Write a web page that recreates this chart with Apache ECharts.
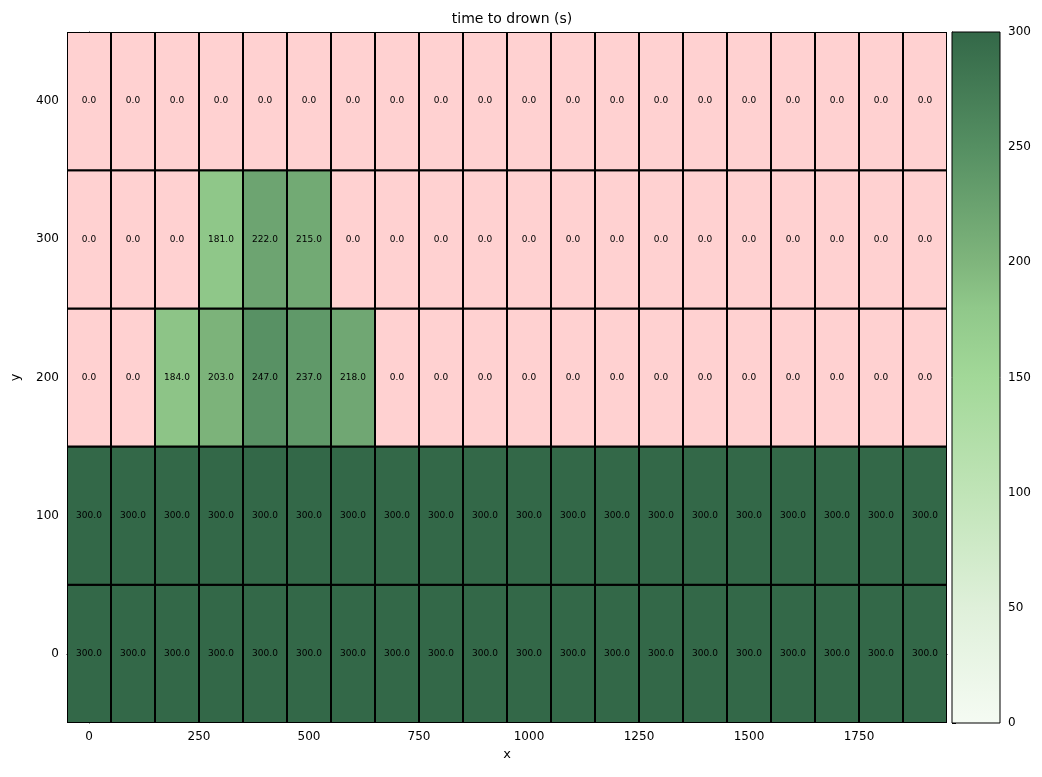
<!DOCTYPE html>
<html><head><meta charset="utf-8">
<script src="https://cdn.jsdelivr.net/npm/echarts@6/dist/echarts.min.js"></script>
<style>html,body{margin:0;padding:0;background:#fff}#c{width:1042px;height:777px}</style>
</head><body><div id="c"></div>
<script>
const xs = [0,100,200,300,400,500,600,700,800,900,1000,1100,1200,1300,1400,1500,1600,1700,1800,1900];
const ys = [0,100,200,300,400];
const row0   = [300,300,300,300,300,300,300,300,300,300,300,300,300,300,300,300,300,300,300,300];
const row100 = [300,300,300,300,300,300,300,300,300,300,300,300,300,300,300,300,300,300,300,300];
const row200 = [0,0,184,203,247,237,218,0,0,0,0,0,0,0,0,0,0,0,0,0];
const row300 = [0,0,0,181,222,215,0,0,0,0,0,0,0,0,0,0,0,0,0,0];
const row400 = [0,0,0,0,0,0,0,0,0,0,0,0,0,0,0,0,0,0,0,0];
const xTicks = [0,250,500,750,1000,1250,1500,1750];
const yTicks = [0,100,200,300,400];
const rows = [row0,row100,row200,row300,row400];
const data = [];
rows.forEach((r,j)=>r.forEach((v,i)=>data.push([xs[i],ys[j],v])));

const stops = [[0,[245,251,243]],[50,[223,240,218]],[100,[192,228,183]],[150,[162,216,152]],[180,[144,200,138]],[200,[127,181,124]],[250,[85,143,98]],[300,[51,104,72]]];
function green(v){
  v=Math.max(0,Math.min(300,v));
  for(let i=0;i<stops.length-1;i++){
    const a=stops[i],b=stops[i+1];
    if(v<=b[0]){const f=(v-a[0])/(b[0]-a[0]);return 'rgb('+a[1].map((c,k)=>Math.round(c+(b[1][k]-c)*f)).join(',')+')';}
  }
}
const PINK = '#ffd1d1';
const chart = echarts.init(document.getElementById('c'));
chart.setOption({
  animation:false,
  title:{text:'time to drown (s)',left:507,top:7,textAlign:'center',textStyle:{fontSize:14,fontWeight:'normal',color:'#000',fontFamily:'DejaVu Sans'}},
  grid:[{left:67,top:32,width:880,height:691},{left:952,top:32,width:48,height:691}],
  xAxis:[{type:'value',gridIndex:0,min:-50,max:1950,name:'x',nameLocation:'middle',nameGap:24,
    nameTextStyle:{fontSize:13,color:'#000',fontFamily:'DejaVu Sans'},
    splitLine:{show:false},axisLine:{lineStyle:{color:'#000'}},
    axisTick:{customValues:xTicks,length:4,lineStyle:{color:'#000'}},
    axisLabel:{customValues:xTicks,formatter:v=>String(v),color:'#000',fontSize:12,fontFamily:'DejaVu Sans'}},
    {type:'value',gridIndex:1,min:0,max:1,show:false}],
  yAxis:[{type:'value',gridIndex:0,min:-50,max:450,name:'y',nameLocation:'middle',nameGap:45,
    nameTextStyle:{fontSize:13,color:'#000',fontFamily:'DejaVu Sans'},
    splitLine:{show:false},axisLine:{show:true,lineStyle:{color:'#000'}},
    axisTick:{show:true,customValues:yTicks,length:4,lineStyle:{color:'#000'}},
    axisLabel:{customValues:yTicks,color:'#000',fontSize:12,fontFamily:'DejaVu Sans'}},
    {type:'value',gridIndex:1,min:0,max:300,interval:50,position:'right',
    splitLine:{show:false},axisLine:{show:true,lineStyle:{color:'#000'}},
    axisTick:{show:true,length:4,lineStyle:{color:'#000'}},
    axisLabel:{color:'#000',fontSize:12,fontFamily:'DejaVu Sans'}}],
  series:[{
    type:'custom',xAxisIndex:0,yAxisIndex:0,data:data,clip:true,
    renderItem:function(params,api){
      const x=api.value(0),y=api.value(1),v=api.value(2);
      const p1=api.coord([x-50,y+50]),p2=api.coord([x+50,y-50]);
      return {type:'group',children:[
        {type:'rect',shape:{x:p1[0],y:p1[1],width:p2[0]-p1[0],height:p2[1]-p1[1]},
         style:{fill:v===0?PINK:green(v),stroke:'#000',lineWidth:2}},
        {type:'text',style:{text:v.toFixed(1),x:(p1[0]+p2[0])/2,y:(p1[1]+p2[1])/2,
          align:'center',verticalAlign:'middle',fontSize:9,fill:'#000',fontFamily:'DejaVu Sans'}}]};
    }
  },{
    type:'custom',xAxisIndex:1,yAxisIndex:1,data:[[0,0]],
    renderItem:function(params,api){
      const p1=api.coord([0,300]),p2=api.coord([1,0]);
      const cs=stops.map(s=>({offset:1-s[0]/300,color:'rgb('+s[1].join(',')+')'})).reverse();
      return {type:'rect',shape:{x:p1[0],y:p1[1],width:p2[0]-p1[0],height:p2[1]-p1[1]},
        style:{fill:new echarts.graphic.LinearGradient(0,0,0,1,cs),stroke:'#000',lineWidth:1}};
    }
  }]
});
</script></body></html>
